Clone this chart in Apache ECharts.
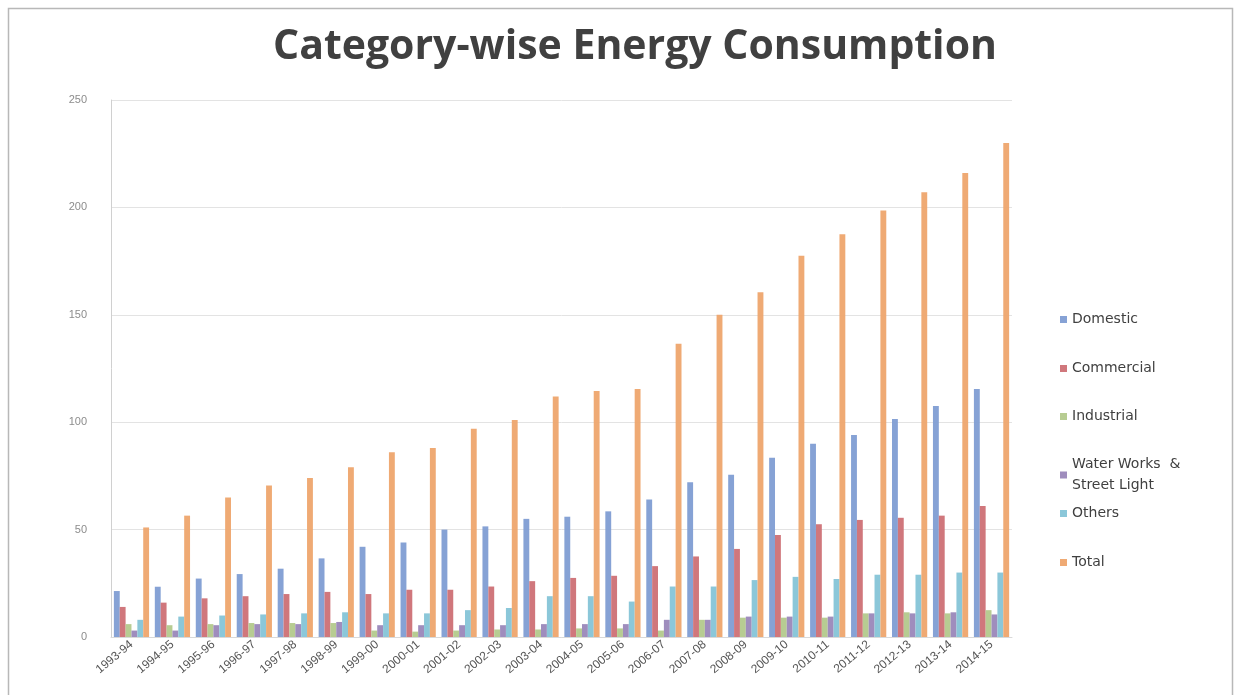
<!DOCTYPE html>
<html>
<head>
<meta charset="utf-8">
<title>Category-wise Energy Consumption</title>
<script src="https://cdn.jsdelivr.net/npm/echarts@6/dist/echarts.min.js"></script>
<style>
  html, body { margin: 0; padding: 0; background: #ffffff; }
  #chart { width: 1243px; height: 695px; }
</style>
</head>
<body>
<div id="chart"></div>
<script>
// Financial years on the category axis
const years = ['1993-94', '1994-95', '1995-96', '1996-97', '1997-98', '1998-99', '1999-00',
  '2000-01', '2001-02', '2002-03', '2003-04', '2004-05', '2005-06', '2006-07', '2007-08',
  '2008-09', '2009-10', '2010-11', '2011-12', '2012-13', '2013-14', '2014-15'];

// Consumption by category
const domestic = [21.4, 23.4, 27.2, 29.3, 31.8, 36.6, 42, 44, 50, 51.5, 55, 56, 58.5, 64, 72,
  75.5, 83.5, 90, 94, 101.5, 107.5, 115.5];
const commercial = [14, 16, 18, 19, 20, 21, 20, 22, 22, 23.5, 26, 27.5, 28.5, 33, 37.5,
  41, 47.5, 52.5, 54.5, 55.5, 56.5, 61];
const industrial = [6, 5.5, 6, 6.5, 6.5, 6.5, 3, 2.5, 3, 3.5, 3.5, 4, 4, 3, 8,
  9, 9, 9, 11, 11.5, 11, 12.5];
const waterWorks = [3, 3, 5.5, 6, 6, 7, 5.5, 5.5, 5.5, 5.5, 6, 6, 6, 8, 8,
  9.5, 9.5, 9.5, 11, 11, 11.5, 10.5];
const others = [8, 9.5, 10, 10.5, 11, 11.5, 11, 11, 12.5, 13.5, 19, 19, 16.5, 23.5, 23.5,
  26.5, 28, 27, 29, 29, 30, 30];
const total = [51, 56.5, 65, 70.5, 74, 79, 86, 88, 97, 101, 112, 114.5, 115.5, 136.5, 150,
  160.5, 177.5, 187.5, 198.5, 207, 216, 230];

// Value-axis ticks
const yTicks = [0, 50, 100, 150, 200, 250];

const seriesDefs = [
  { name: 'Domestic', data: domestic, color: '#7f9dd3' },
  { name: 'Commercial', data: commercial, color: '#cd7075' },
  { name: 'Industrial', data: industrial, color: '#b3c98c' },
  { name: 'Water Works  &\nStreet Light', data: waterWorks, color: '#9a87b9' },
  { name: 'Others', data: others, color: '#85c4d7' },
  { name: 'Total', data: total, color: '#eea56d' }
];

// One legend block per series so each entry sits at its own height
const legendTops = [304, 353, 401, 449, 498, 547];
const legendFont = { fontFamily: 'DejaVu Sans', fontSize: 14, color: '#404040', lineHeight: 21 };

const chart = echarts.init(document.getElementById('chart'), null, { renderer: 'canvas' });

chart.setOption({
  backgroundColor: '#ffffff',
  animation: false,
  title: {
    text: 'Category-wise Energy Consumption',
    left: 268,
    top: 22,
    textStyle: { fontFamily: 'Open Sans', fontWeight: 'bold', fontSize: 41, color: '#404040' }
  },
  graphic: [{
    type: 'rect',
    shape: { x: 8.5, y: 8.5, width: 1224, height: 700 },
    style: { fill: 'none', stroke: '#b8b8b8', lineWidth: 1.5 },
    silent: true
  }],
  legend: seriesDefs.map((s, i) => ({
    data: [s.name],
    orient: 'vertical',
    left: 1055,
    top: legendTops[i],
    icon: 'rect',
    itemWidth: 7,
    itemHeight: 7,
    itemGap: 6,
    textStyle: legendFont
  })),
  grid: { left: 111, right: 231, top: 100, bottom: 58, containLabel: false },
  xAxis: {
    type: 'category',
    data: years,
    axisLine: { show: true, lineStyle: { color: '#d9d9d9' } },
    axisTick: { show: false },
    axisLabel: {
      rotate: 40,
      interval: 0,
      margin: 6,
      fontFamily: 'Liberation Sans',
      fontSize: 12,
      color: '#555555'
    }
  },
  yAxis: {
    type: 'value',
    min: yTicks[0],
    max: yTicks[yTicks.length - 1],
    interval: yTicks[1] - yTicks[0],
    axisLine: { show: true, lineStyle: { color: '#d0d0d0' } },
    axisTick: { show: false },
    splitLine: { lineStyle: { color: '#e3e3e3' } },
    axisLabel: {
      margin: 24,
      fontFamily: 'Liberation Sans',
      fontSize: 11,
      color: '#8c8c8c'
    }
  },
  series: seriesDefs.map(s => ({
    name: s.name,
    type: 'bar',
    data: s.data,
    barGap: '0%',
    barCategoryGap: '14%',
    itemStyle: { color: s.color, opacity: 0.95 }
  }))
});
</script>
</body>
</html>
